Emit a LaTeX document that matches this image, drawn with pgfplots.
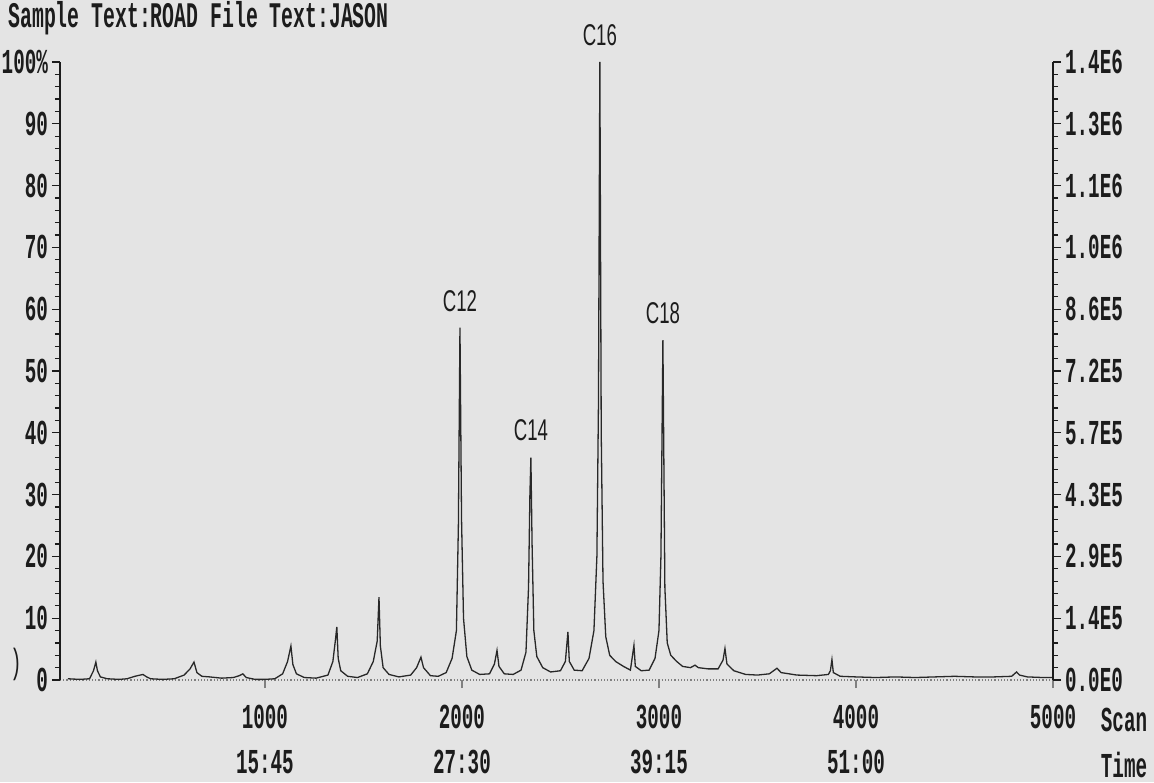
\documentclass[border=0pt]{standalone}
\usepackage{pgfplots}
\pgfplotsset{compat=1.18}
\usepackage{pgfplotstable}
\usepackage{fontspec}
\setmainfont[FakeStretch=0.55]{Liberation Mono}
\newfontfamily\peakfont[FakeStretch=0.62]{Liberation Sans}
\definecolor{paper}{RGB}{228,228,228}
\definecolor{ink}{RGB}{28,28,28}
\definecolor{trace}{RGB}{40,40,40}

\pgfplotstableread{
scan val
0 0.2
60 0.1
110 0.2
130 1.5
142 2.9
150 1.5
165 0.5
200 0.2
260 0.1
300 0.2
340 0.6
381 0.9
400 0.5
420 0.2
480 0.1
540 0.2
590 0.8
620 1.8
640 2.9
655 1.2
680 0.6
720 0.5
780 0.3
840 0.4
870 0.7
888 1.0
905 0.4
950 0.1
1000 0.1
1050 0.2
1090 1.0
1115 3.0
1132 5.5
1142 2.5
1160 1.0
1200 0.4
1260 0.3
1320 0.8
1345 3.0
1358 6.5
1365 8.6
1372 3.5
1385 1.5
1420 0.6
1470 0.4
1520 1.0
1550 3.0
1570 6.3
1579 13.4
1586 5.5
1600 2.0
1630 0.9
1680 0.5
1740 0.8
1770 2.0
1792 3.7
1805 2.0
1840 0.7
1880 0.6
1920 1.2
1950 3.5
1972 8
1982 25
1990 57
1998 26
2008 10
2025 3.8
2050 1.6
2090 0.9
2140 1.0
2165 2.6
2178 4.8
2188 2.2
2215 1.0
2260 0.9
2300 1.6
2325 4.5
2338 15
2345 30
2350 36
2356 22
2365 8
2380 3.8
2410 2.0
2450 1.3
2500 1.5
2525 3.0
2538 7.8
2545 3.0
2570 1.6
2610 1.5
2645 3.5
2670 8
2685 20
2693 45
2700 100
2707 40
2716 16
2730 7
2750 4
2780 3.0
2820 2.2
2855 1.6
2873 5.6
2880 2.2
2910 1.5
2950 1.6
2980 3.5
3000 8
3010 20
3020 55
3030 15
3042 6
3060 4.0
3090 3.0
3120 2.2
3160 2.0
3183 2.4
3200 2.0
3250 1.8
3300 1.8
3325 3.2
3335 5.1
3345 2.6
3380 1.5
3440 0.9
3500 0.8
3560 1.0
3599 1.9
3620 1.2
3700 0.8
3800 0.7
3860 0.9
3870 1.5
3878 3.3
3885 1.2
3920 0.6
4000 0.5
4100 0.4
4200 0.5
4300 0.4
4400 0.5
4500 0.6
4600 0.5
4700 0.5
4790 0.6
4815 1.3
4830 0.8
4870 0.5
4950 0.4
5000 0.4
}\trace

\begin{document}
\begin{tikzpicture}
\fill[paper, use as bounding box] (-30pt,-51pt) rectangle (547pt,340pt);
\begin{axis}[
  scale only axis, width=496.5pt, height=309pt,
  xmin=-40, xmax=5000, ymin=0, ymax=100,
  clip=false,
  axis x line*=bottom, axis y line*=left,
  x axis line style={gray, densely dotted, line width=0.6pt, -},
  y axis line style={ink, line width=0.7pt, -},
  tick align=outside,
  major tick length=4pt, minor tick length=2.5pt,
  xtick={1000,2000,3000,4000,5000},
  xticklabels={{1000\\15:45},{2000\\27:30},{3000\\39:15},{4000\\51:00},{5000}},
  x tick style={gray, line width=0.6pt},
  xticklabel style={align=center, yshift=-5pt},
  ytick={0,10,...,100},
  yticklabels={0,10,20,30,40,50,60,70,80,90,100\%},
  yticklabel style={xshift=1.5pt},
  minor y tick num=4,
  y tick style={ink, line width=0.6pt},
  tick label style={font=\bfseries\fontsize{17.5}{22.5}\selectfont, text=ink},
]
\addplot[trace, line width=0.65pt] table[x=scan,y=val] {\trace};
\node[font=\peakfont\fontsize{15}{15}\selectfont, text=ink, anchor=south] at (axis cs:1990,58.5) {C12};
\node[font=\peakfont\fontsize{15}{15}\selectfont, text=ink, anchor=south] at (axis cs:2350,37.5) {C14};
\node[font=\peakfont\fontsize{15}{15}\selectfont, text=ink, anchor=south] at (axis cs:2700,101.5) {C16};
\node[font=\peakfont\fontsize{15}{15}\selectfont, text=ink, anchor=south] at (axis cs:3020,56.5) {C18};
\end{axis}
\begin{axis}[
  scale only axis, width=496.5pt, height=309pt,
  xmin=-40, xmax=5000, ymin=0, ymax=100,
  axis x line=none, axis y line*=right,
  y axis line style={ink, line width=0.7pt, -},
  tick align=outside,
  major tick length=4pt, minor tick length=2.5pt,
  ytick={0,10,...,100},
  yticklabels={0.0E0,1.4E5,2.9E5,4.3E5,5.7E5,7.2E5,8.6E5,1.0E6,1.1E6,1.3E6,1.4E6},
  yticklabel style={xshift=-1.5pt},
  minor y tick num=4,
  y tick style={ink, line width=0.6pt},
  tick label style={font=\bfseries\fontsize{17.5}{22.5}\selectfont, text=ink},
]
\end{axis}
\node[anchor=west, inner sep=0pt, text=ink, font=\bfseries\fontsize{18}{20}\selectfont] at (-26pt,331pt) {Sample Text:ROAD File Text:JASON};
\node[text=ink, font=\bfseries\fontsize{17.5}{20}\selectfont] at (532pt,-20pt) {Scan};
\node[text=ink, font=\bfseries\fontsize{17.5}{20}\selectfont] at (532pt,-42.5pt) {Time};
\node[text=ink, font=\fontsize{17.5}{20}\selectfont] at (-22pt,8pt) {)};
\end{tikzpicture}
\end{document}
